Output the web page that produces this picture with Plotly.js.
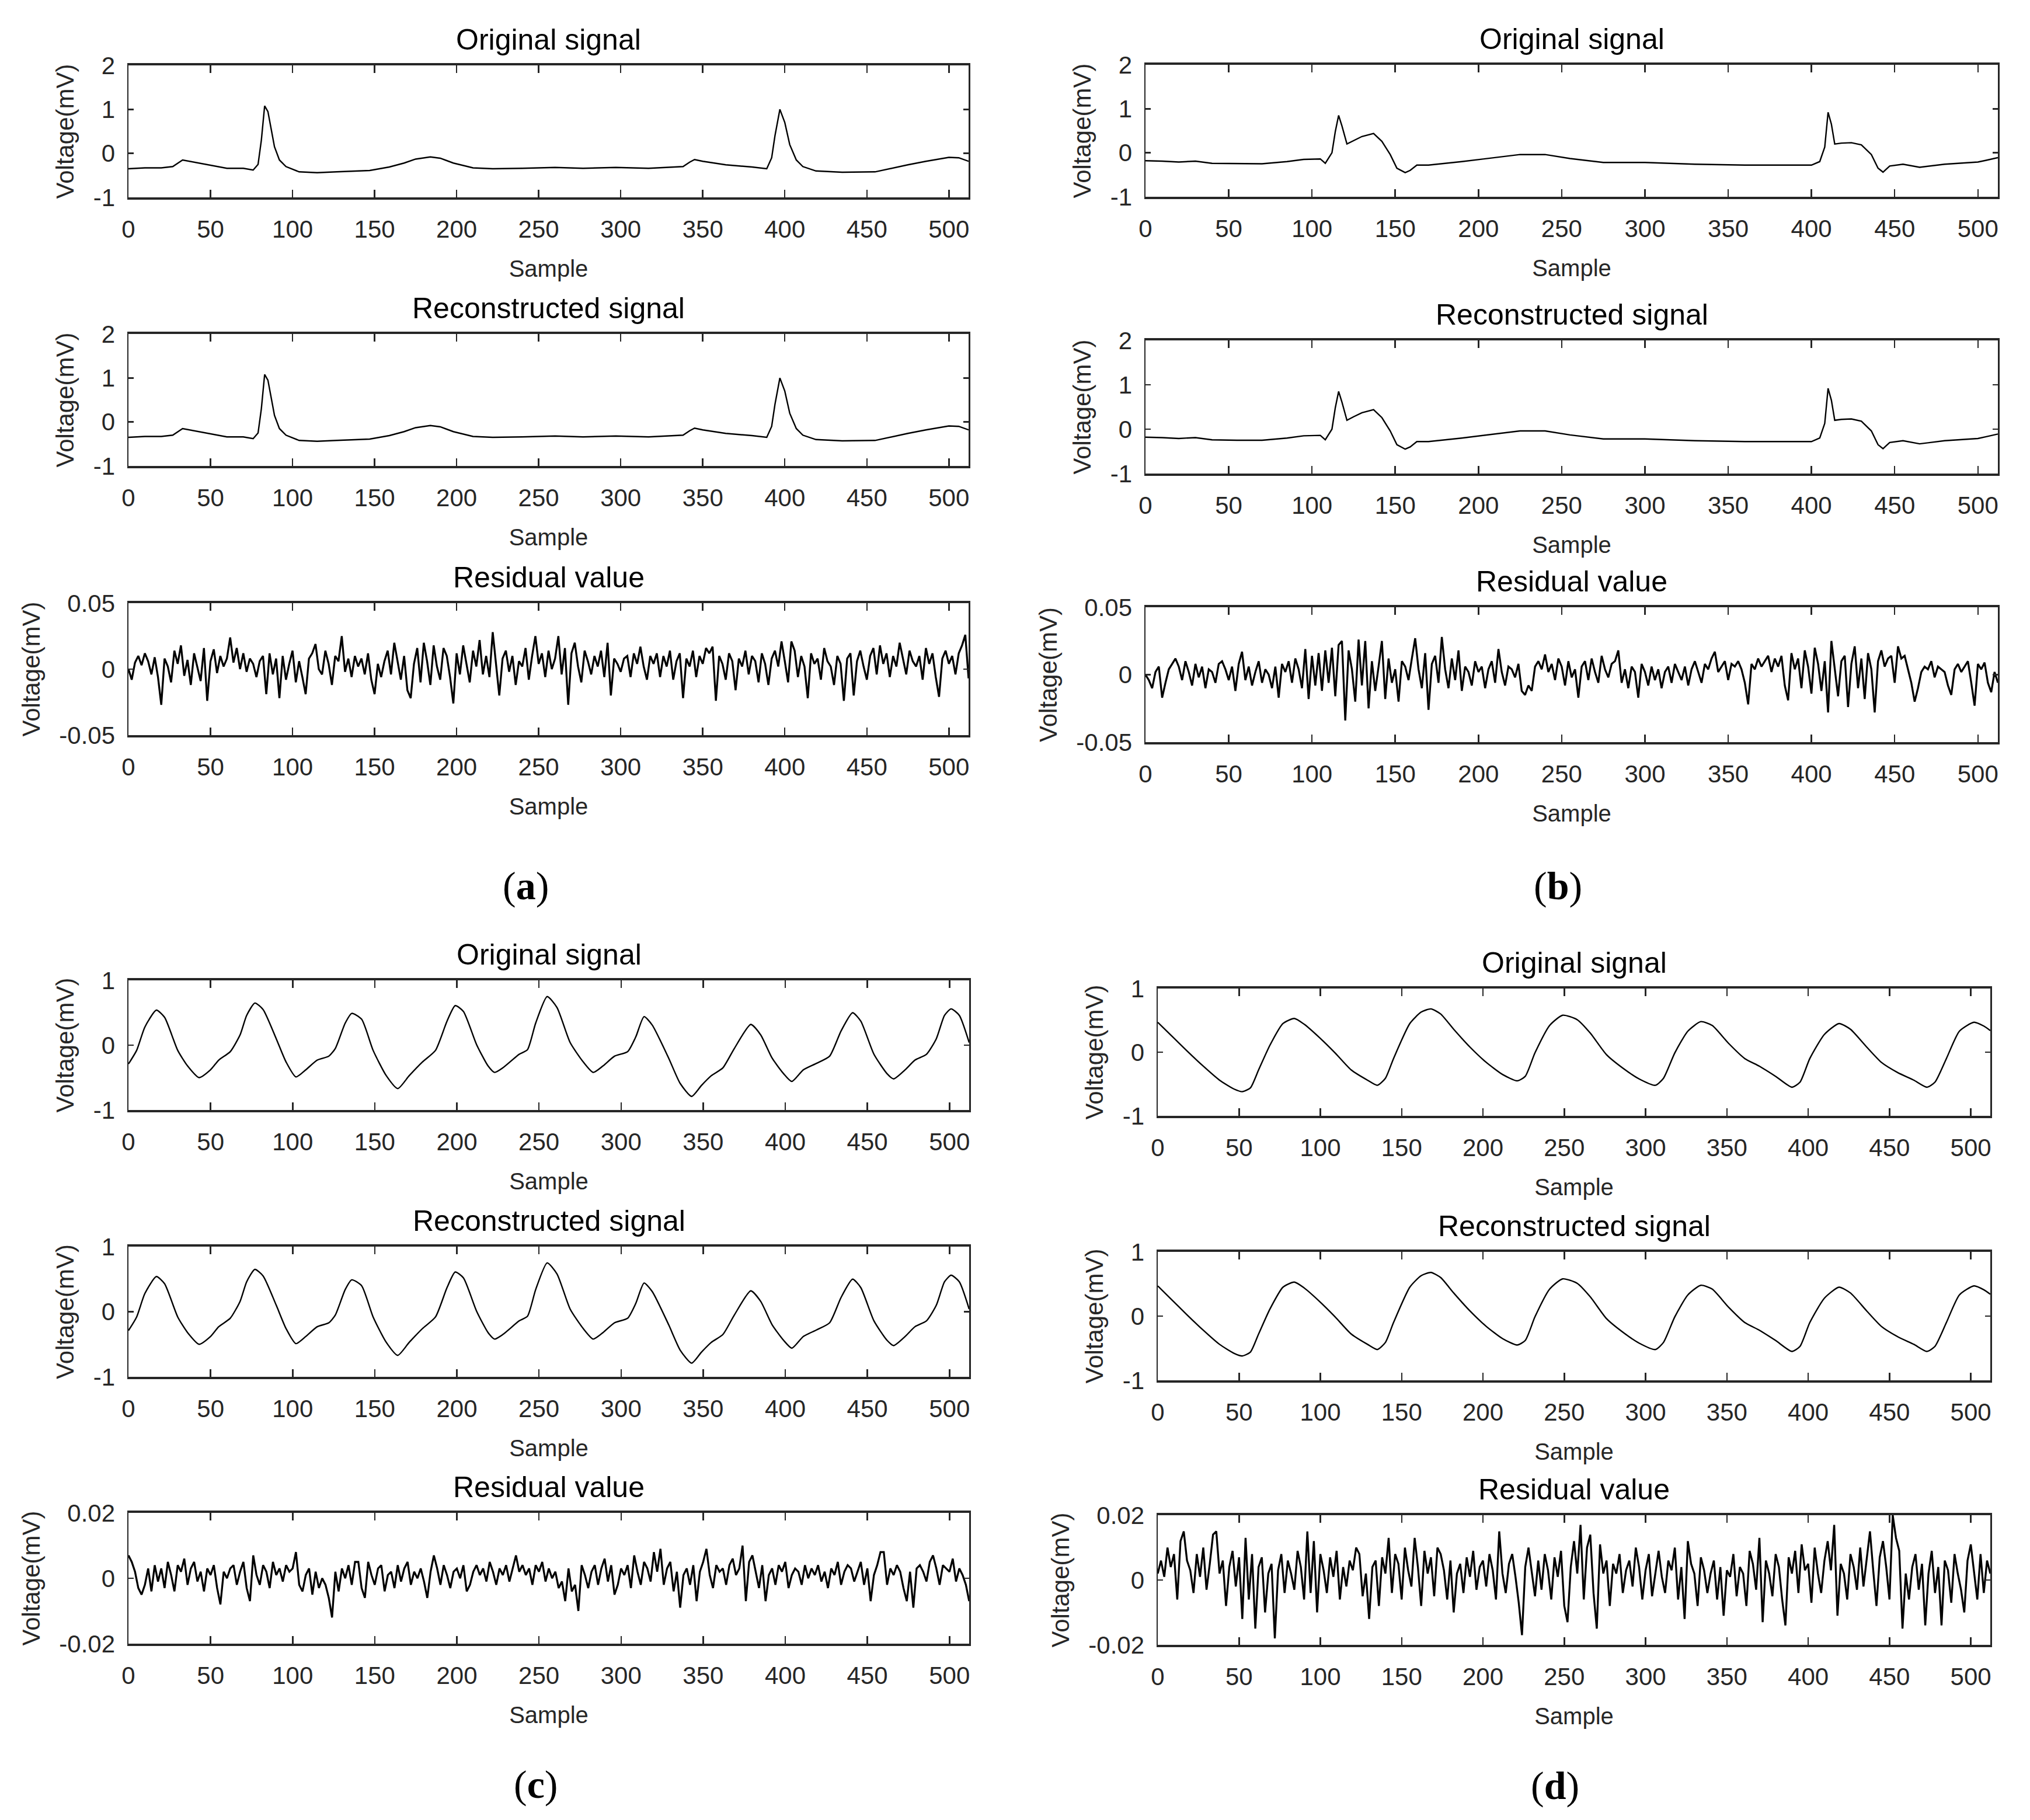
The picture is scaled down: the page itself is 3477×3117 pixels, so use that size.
<!DOCTYPE html>
<html>
<head>
<meta charset="utf-8">
<script src="https://cdn.plot.ly/plotly-3.0.1.min.js"></script>
<style>html,body{margin:0;padding:0;background:#fff}</style>
</head>
<body>
<div id="plot-area" style="width:3477px;height:3117px"></div>
<script>
// signals (sample, mV)
var sigA_x = [0,10,20,27,33,40,52,60,70,76,79,81,83,85,87,89,92,96,104,115,127,147,159,168,175,184,190,198,210,222,240,260,277,297,317,330,338,342,345,350,364,380,389,392,394,397,400,403,407,411,419,435,455,475,486,500,506,512];
var sigA_y = [-0.35,-0.33,-0.33,-0.30,-0.15,-0.20,-0.29,-0.34,-0.34,-0.38,-0.25,0.3,1.08,0.95,0.55,0.15,-0.15,-0.3,-0.42,-0.44,-0.42,-0.39,-0.31,-0.22,-0.13,-0.08,-0.11,-0.22,-0.33,-0.35,-0.34,-0.32,-0.34,-0.32,-0.34,-0.32,-0.30,-0.2,-0.14,-0.18,-0.26,-0.31,-0.35,-0.1,0.4,1.0,0.7,0.2,-0.15,-0.3,-0.40,-0.43,-0.42,-0.26,-0.18,-0.09,-0.1,-0.18];

var sigB_x = [0,10,20,30,40,55,70,85,95,105,108,112,114,116,118,121,125,130,137,142,147,151,156,159,163,170,190,210,225,240,255,275,300,330,360,380,400,405,408,410,412,414,418,424,430,436,440,443,447,455,465,480,500,505,512];
var sigB_y = [-0.18,-0.19,-0.21,-0.19,-0.24,-0.25,-0.25,-0.2,-0.15,-0.14,-0.24,0.0,0.48,0.85,0.61,0.2,0.28,0.37,0.44,0.26,-0.04,-0.35,-0.45,-0.40,-0.28,-0.28,-0.2,-0.11,-0.04,-0.04,-0.13,-0.22,-0.22,-0.26,-0.28,-0.28,-0.28,-0.2,0.13,0.92,0.65,0.2,0.22,0.23,0.18,-0.04,-0.35,-0.44,-0.3,-0.26,-0.33,-0.26,-0.21,-0.17,-0.11];

var sigC_x = [0,5,10,17,22,30,36,43,50,55,62,68,72,77,82,90,96,102,108,115,122,126,132,136,142,149,157,164,171,179,187,194,199,204,212,219,223,228,238,243,248,255,261,269,277,283,289,296,304,309,314,319,329,336,343,349,355,362,369,379,385,392,399,404,411,419,427,434,441,446,454,462,466,473,479,486,492,497,501,506,512];
var sigC_y = [-0.29,-0.08,0.28,0.54,0.43,-0.08,-0.32,-0.50,-0.38,-0.23,-0.10,0.16,0.46,0.65,0.55,0.10,-0.26,-0.49,-0.38,-0.23,-0.17,-0.05,0.34,0.49,0.40,-0.08,-0.47,-0.67,-0.47,-0.26,-0.08,0.37,0.61,0.52,0.01,-0.32,-0.42,-0.35,-0.14,-0.07,0.34,0.75,0.58,0.04,-0.26,-0.42,-0.32,-0.17,-0.10,0.13,0.44,0.31,-0.20,-0.59,-0.79,-0.62,-0.47,-0.35,-0.05,0.32,0.16,-0.20,-0.44,-0.56,-0.38,-0.28,-0.17,0.22,0.50,0.37,-0.14,-0.44,-0.52,-0.38,-0.23,-0.14,0.10,0.46,0.56,0.46,0.04];

var sigD_x = [0,8,18,28,38,47,52,57,62,69,77,84,90,99,109,119,129,135,140,145,155,162,168,174,182,192,202,212,221,226,232,241,249,258,266,276,286,296,306,311,318,326,334,341,351,361,370,380,390,395,401,410,419,426,436,445,455,465,473,478,485,493,502,508,512];
var sigD_y = [0.47,0.27,0.02,-0.22,-0.44,-0.58,-0.62,-0.56,-0.28,0.11,0.45,0.53,0.44,0.24,-0.01,-0.28,-0.44,-0.52,-0.41,-0.10,0.45,0.63,0.68,0.60,0.36,0.08,-0.16,-0.35,-0.45,-0.38,-0.01,0.42,0.58,0.51,0.30,-0.04,-0.25,-0.42,-0.52,-0.41,-0.01,0.33,0.48,0.42,0.14,-0.10,-0.22,-0.38,-0.55,-0.47,-0.10,0.28,0.45,0.36,0.08,-0.16,-0.32,-0.44,-0.55,-0.47,-0.10,0.33,0.47,0.41,0.34];

// residuals, one value every 2 samples, in microvolts
var resStep = 2;
var resA = [0,-8,5,10,3,12,6,-4,9,-6, -27,8,2,-10,14,4,18,-5,7,-12, 12,2,-9,16,-24,6,15,-3,10,2, 8,24,5,16,0,12,-2,8,4,-6,
  6,10,-19,12,-4,8,-22,10,-8,4, 14,-10,6,-6,-19,8,12,19,0,-4, 14,4,-12,10,6,25,-2,8,-6,10, 2,8,-4,12,-8,-19,4,-6,6,14,
  -4,20,6,-8,10,-16,-22,4,16,-10, 20,6,-12,18,2,-8,16,10,-6,-26, 12,-4,18,4,-10,14,2,22,-4,10, -6,28,4,-20,8,14,-2,10,-12,6,
  2,16,-8,10,25,4,12,-6,14,0, 8,25,-4,16,-27,12,20,2,-10,14, 6,-4,10,2,14,-6,20,-20,8,4, -2,8,10,-6,12,4,17,2,-8,10,
  4,12,-6,10,2,14,-8,6,12,-22, 8,2,14,-6,10,4,16,12,17,-24, 10,4,-8,12,6,-16,8,2,14,-4, 10,6,-10,12,4,-12,8,14,2,21,
  6,-10,21,14,-6,10,2,-22,12,4, 8,-8,16,6,2,-12,10,4,-24,8, 12,-20,6,14,2,-8,10,16,-4,18, 4,12,-6,10,2,20,8,-4,14,6,
  2,10,-8,16,4,12,-6,-21,8,14, 4,10,-4,12,18,26,-7];
var resB = [0,-4,-10,2,6,-17,-6,4,8,12, 6,-4,10,2,-8,8,-2,6,-10,4, 2,-6,8,10,4,-4,6,-12,8,17, -4,6,-8,2,10,-6,4,0,-10,6,
  -17,8,2,10,-6,12,4,-10,19,-18, 14,-8,16,-12,18,-6,20,-16,22,25, -34,18,4,-20,26,-8,25,-25,10,-12, 6,25,-18,12,-6,4,-20,10,6,-4,
  12,27,4,-10,16,-26,8,14,-6,28, 4,-10,12,-4,18,-12,6,2,-8,10, 2,6,-10,4,10,-6,19,2,-8,6, 4,-2,8,-12,-15,-8,-12,6,10,4,
  15,2,8,-4,12,6,-8,10,-2,4, -17,6,10,-4,12,2,-6,14,4,-2, 8,10,18,-6,4,-10,6,2,-17,8, 2,-8,6,-4,4,-10,2,6,-6,8,
  2,-4,6,-8,4,10,2,-6,8,4, 12,17,2,6,10,-4,8,6,10,4, -6,-22,8,4,12,6,10,14,2,12, 6,14,-8,-19,16,4,12,-10,18,6,
  -14,20,8,-12,10,-28,25,4,-16,10, 14,-24,8,21,-10,12,-18,16,4,-28, 10,18,6,12,14,-6,21,12,14,4, -6,-20,-10,2,6,4,10,-2,6,4,
  2,-8,-15,4,8,2,6,10,-6,-23, 8,4,9,-6,-13,2,-6];
var resC = [7,5,2,-3,-5,-2,3,-4,4,-1, 3,-3,5,1,-4,4,2,6,-2,3, 5,-1,2,-4,3,1,4,-3,-8,2, 0,3,4,-2,2,5,-3,-7,7,1,
  -2,4,2,-3,5,1,3,-1,4,2, 3,8,-2,-4,1,3,-5,2,-3,0, -2,-6,-12,2,-4,3,0,4,-2,5, 5,-3,-6,5,1,-2,3,4,-4,1,
  2,-3,4,-1,3,5,-2,2,0,3, -1,-6,2,7,3,-2,4,1,-3,2, 3,0,4,-4,-2,2,4,1,3,-1, 5,2,-2,3,1,4,-1,3,7,2,
  4,1,3,-2,4,2,5,-1,3,0, 2,-3,-1,-7,3,-4,-2,-10,4,1, -3,2,4,-2,3,6,-1,4,-5,-2, 3,1,4,-3,7,2,-2,5,3,-1,
  8,2,9,-2,3,5,-4,2,-9,1, 3,-2,4,-7,2,5,9,1,-3,4, 2,3,-2,4,6,1,3,10,-7,5, 7,2,-3,4,-7,1,3,-2,4,2,
  5,-3,1,3,2,-2,4,0,3,1, 4,-1,2,-3,3,1,5,-2,2,4, 3,-1,2,5,-2,3,-7,1,4,8, 8,-2,3,1,4,2,-3,-7,2,-9,
  3,4,2,-1,5,7,3,-2,4,3, 2,6,-1,3,1,-2,-7];
var resD = [2,6,1,10,4,8,-6,12,15,6, 3,-4,8,1,10,-3,5,14,15,2, 6,-8,4,9,-2,7,-12,13,-6,8, -15,4,7,-10,2,5,-18,3,8,-4,
  6,2,-3,9,4,-6,15,-4,12,-10, 8,3,-4,7,1,9,-6,4,-2,6, 3,10,8,-5,2,-12,4,6,-8,7, 2,13,-4,8,5,-6,10,3,-2,13,
  4,-8,9,2,7,-5,10,8,3,-6, 6,-10,2,5,-4,7,1,9,-3,4, 6,-2,8,3,-6,15,2,-4,5,8, 1,-7,-17,4,10,2,-5,6,-3,8,
  3,-6,7,1,9,-8,-13,4,12,2, 17,-6,10,14,-4,-15,11,2,6,-8, 5,2,8,-4,3,6,-2,10,4,-6, 3,8,-5,2,9,1,-4,6,3,10,
  -6,4,-12,12,5,2,-8,7,3,-4, 2,6,-6,4,-11,3,1,8,-5,4, 2,-8,9,5,-3,13,-13,6,2,-5, 8,4,-6,-14,7,2,9,-4,11,3,
  5,-7,10,2,-4,6,12,3,17,-11, 5,2,-6,8,4,-3,10,-2,6,15, 3,-8,7,12,4,-6,20,13,9,-15, 2,-6,4,8,-3,5,-14,2,9,-4,
  4,-14,6,3,-7,8,2,-3,-10,6, 11,3,-6,8,-4,6,2];

// ticks and texts
var sampleTicks = [0,50,100,150,200,250,300,350,400,450,500];
var sigTicksAB = [-1,0,1,2], sigTextAB = ['-1','0','1','2'];
var sigTicksCD = [-1,0,1], sigTextCD = ['-1','0','1'];
var resTicksAB = [-50,0,50], resTextAB = ['-0.05','0','0.05'];
var resTicksCD = [-20,0,20], resTextCD = ['-0.02','0','0.02'];
var plotTitles = ['Original signal','Reconstructed signal','Residual value'];
var panelLabels = ['a','b','c','d'];

var W = 3477, H = 3117;
var panels = [
  {left:220, right:1659, tops:[112,572,1033], bots:[338,798,1259], lx:900, ly:1517, smooth:false,
   sx:sigA_x, sy:sigA_y, res:resA, st:sigTicksAB, stt:sigTextAB, sr:[-1,2], rt:resTicksAB, rtt:resTextAB, rr:[-50,50]},
  {left:1962, right:3422, tops:[111,583,1040], bots:[337,811,1271], lx:2668, ly:1517, smooth:false,
   sx:sigB_x, sy:sigB_y, res:resB, st:sigTicksAB, stt:sigTextAB, sr:[-1,2], rt:resTicksAB, rtt:resTextAB, rr:[-50,50]},
  {left:220, right:1660, tops:[1679,2135,2591], bots:[1901,2358,2815], lx:918, ly:3056, smooth:true,
   sx:sigC_x, sy:sigC_y, res:resC, st:sigTicksCD, stt:sigTextCD, sr:[-1,1], rt:resTicksCD, rtt:resTextCD, rr:[-20,20]},
  {left:1983, right:3409, tops:[1693,2144,2595], bots:[1911,2364,2817], lx:2663, ly:3058, smooth:true,
   sx:sigD_x, sy:sigD_y, res:resD, st:sigTicksCD, stt:sigTextCD, sr:[-1,1], rt:resTicksCD, rtt:resTextCD, rr:[-20,20]}
];

var axColor = '#262626';
var data = [];
var layout = {
  width: W, height: H,
  margin: {l:0, r:0, t:0, b:0},
  paper_bgcolor: '#fff', plot_bgcolor: '#fff',
  showlegend: false,
  font: {family: 'Liberation Sans, Arial, sans-serif', color: axColor},
  annotations: []
};

panels.forEach(function(p, pi) {
  for (var r = 0; r < 3; r++) {
    var k = pi * 3 + r + 1;
    var sfx = k > 1 ? k : '';
    var isRes = (r === 2);
    var xs = p.sx, ys = p.sy;
    var ln = {color: '#000', width: 2.4};
    if (p.smooth) { ln.shape = 'spline'; ln.smoothing = 0.6; }
    if (isRes) {
      xs = p.res.map(function(v, i) { return i * resStep; });
      ys = p.res;
      ln = {color: '#000', width: 3.3};
    }
    data.push({
      x: xs, y: ys, xaxis: 'x' + sfx, yaxis: 'y' + sfx,
      mode: 'lines', hoverinfo: 'skip', line: ln
    });

    layout['xaxis' + sfx] = {
      domain: [p.left / W, p.right / W], anchor: 'y' + sfx,
      range: [0, 512], tickvals: sampleTicks,
      ticks: 'inside', ticklen: 13, tickwidth: 2.5, tickcolor: axColor,
      showline: true, linecolor: axColor, linewidth: 4, mirror: 'ticks',
      showgrid: false, zeroline: false, fixedrange: true,
      tickfont: {size: 42, color: axColor}, ticklabelstandoff: 15,
      title: {text: 'Sample', font: {size: 40, color: axColor}, standoff: 32}
    };
    layout['yaxis' + sfx] = {
      domain: [1 - p.bots[r] / H, 1 - p.tops[r] / H], anchor: 'x' + sfx,
      range: isRes ? p.rr : p.sr,
      tickvals: isRes ? p.rt : p.st, ticktext: isRes ? p.rtt : p.stt,
      ticks: 'inside', ticklen: 9, tickwidth: 2.5, tickcolor: axColor,
      showline: true, linecolor: axColor, linewidth: 2.5, mirror: 'ticks',
      showgrid: false, zeroline: false, fixedrange: true,
      tickfont: {size: 42, color: axColor}, ticklabelstandoff: 12,
      title: {text: 'Voltage(mV)', font: {size: 42, color: axColor}, standoff: 20}
    };

    layout.annotations.push({
      text: plotTitles[r], xref: 'paper', yref: 'paper',
      x: (p.left + p.right) / 2 / W, y: 1 - (p.tops[r] - 44) / H,
      xanchor: 'center', yanchor: 'middle', showarrow: false,
      font: {size: 50, color: '#000'}
    });
  }
  layout.annotations.push({
    text: '(<b>' + panelLabels[pi] + '</b>)', xref: 'paper', yref: 'paper',
    x: p.lx / W, y: 1 - p.ly / H, xanchor: 'center', yanchor: 'middle', showarrow: false,
    font: {family: 'Liberation Serif, Times New Roman, serif', size: 68, color: '#000'}
  });
});

Plotly.newPlot('plot-area', data, layout, {staticPlot: true});
</script>
</body>
</html>
